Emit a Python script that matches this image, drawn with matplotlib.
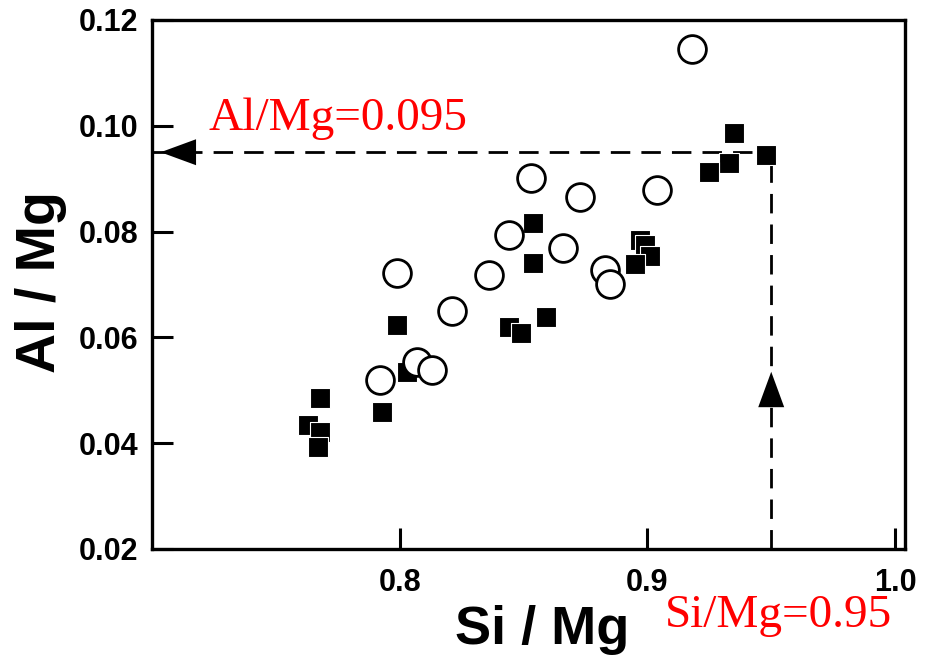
import matplotlib
matplotlib.use("Agg")
import matplotlib.pyplot as plt

# Open circles
circle_si = [0.918, 0.853, 0.873, 0.904, 0.844, 0.866, 0.799, 0.836,
             0.883, 0.885, 0.821, 0.807, 0.813, 0.792]
circle_al = [0.1145, 0.0901, 0.0865, 0.0879, 0.0794, 0.0769, 0.0722, 0.0718,
             0.0727, 0.0701, 0.0650, 0.0553, 0.0538, 0.0519]

# Filled squares
square_si = [0.935, 0.933, 0.925, 0.948, 0.854, 0.854, 0.897, 0.899,
             0.901, 0.895, 0.844, 0.849, 0.859, 0.799, 0.803, 0.793,
             0.768, 0.763, 0.768, 0.767]
square_al = [0.0986, 0.0930, 0.0913, 0.0945, 0.0816, 0.0741, 0.0784, 0.0775,
             0.0754, 0.0739, 0.0620, 0.0608, 0.0639, 0.0623, 0.0535, 0.0459,
             0.0485, 0.0434, 0.0421, 0.0393]

xticks = [0.8, 0.9, 1.0]
xtick_labels = ["0.8", "0.9", "1.0"]
yticks = [0.02, 0.04, 0.06, 0.08, 0.10, 0.12]
ytick_labels = ["0.02", "0.04", "0.06", "0.08", "0.10", "0.12"]

si_ref = 0.95
al_ref = 0.095

fig = plt.figure(figsize=(9.3, 6.66), dpi=100)
ax = fig.add_axes([0.1634, 0.1757, 0.8097, 0.7943])
ax.set_xlim(0.7, 1.004)
ax.set_ylim(0.02, 0.12)

# reference lines with arrowheads
ax.plot([0.7, si_ref], [al_ref, al_ref], color="black", lw=2.0,
        dashes=(7, 4), zorder=2)
ax.plot([si_ref, si_ref], [0.02, al_ref], color="black", lw=2.0,
        dashes=(7, 4), zorder=2)
head = dict(arrowstyle="-|>,head_length=1.5,head_width=0.55",
            color="black", lw=0, mutation_scale=17, shrinkA=0, shrinkB=0)
ax.annotate("", xy=(0.7035, al_ref), xytext=(0.718, al_ref),
            arrowprops=head, zorder=3)
ax.annotate("", xy=(si_ref, 0.0535), xytext=(si_ref, 0.046),
            arrowprops=head, zorder=3)

ax.scatter(square_si, square_al, marker="s", s=200, c="black",
           edgecolors="white", linewidths=0.8, zorder=4)
ax.scatter(circle_si, circle_al, marker="o", s=400, facecolors="white",
           edgecolors="black", linewidths=2.0, zorder=5)

for sp in ax.spines.values():
    sp.set_linewidth(2.4)

ax.set_xticks(xticks)
ax.set_xticklabels(xtick_labels)
ax.set_yticks(yticks)
ax.set_yticklabels(ytick_labels)
ax.tick_params(direction="in", length=15, width=2.2, pad=10)
ax.tick_params(axis="x", pad=14)
for lab in ax.get_xticklabels() + ax.get_yticklabels():
    lab.set_fontfamily("Liberation Sans")
    lab.set_fontweight("bold")
    lab.set_fontsize(22)

ax.set_xlabel("Si / Mg", fontfamily="Liberation Sans", fontweight="bold",
              fontsize=39)
ax.xaxis.set_label_coords(0.518, -0.105)
ax.set_ylabel("Al / Mg", fontfamily="Liberation Sans", fontweight="bold",
              fontsize=40)
ax.yaxis.set_label_coords(-0.113, 0.505)

fig.text(208 / 930, 1 - 130 / 666, "Al/Mg=0.095", color="red",
         fontfamily="Liberation Serif", fontsize=34, ha="left", va="baseline")
fig.text(665 / 930, 1 - 627 / 666, "Si/Mg=0.95", color="red",
         fontfamily="Liberation Serif", fontsize=34, ha="left", va="baseline")

fig.savefig("out.png", dpi=100)
